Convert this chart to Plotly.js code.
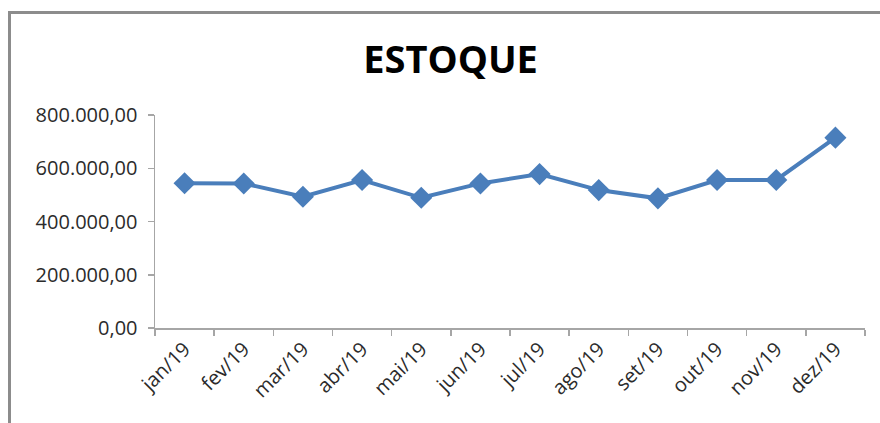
<!DOCTYPE html>
<html>
<head>
<meta charset="utf-8">
<script src="https://cdn.plot.ly/plotly-3.0.1.min.js"></script>
<style>
html,body{margin:0;padding:0;background:#fff;}
#wrap{position:relative;width:880px;height:423px;overflow:hidden;}
#frame{position:absolute;left:8px;top:11px;width:900px;height:440px;border-left:3px solid #8c8c8c;border-top:3px solid #8c8c8c;pointer-events:none;z-index:5;}
#chart{position:absolute;left:0;top:0;width:880px;height:423px;}
</style>
</head>
<body>
<div id="wrap"><div id="chart"></div><div id="frame"></div></div>
<script>
const months = ["jan/19","fev/19","mar/19","abr/19","mai/19","jun/19","jul/19","ago/19","set/19","out/19","nov/19","dez/19"];
const estoque = [543500, 543000, 493000, 556000, 489000, 543000, 578000, 518000, 487000, 556000, 556000, 715000];
const yTicks = [0, 200000, 400000, 600000, 800000];
const yTickText = ["0,00","200.000,00","400.000,00","600.000,00","800.000,00"];

const trace = {
  x: months, y: estoque, type: 'scatter', mode: 'lines+markers',
  line: {color: '#4a7ebb', width: 4},
  marker: {symbol: 'diamond', size: 17, color: '#4a7ebb'},
  hoverinfo: 'none'
};
const layout = {
  width: 880, height: 423,
  margin: {l: 155, r: 15, t: 115, b: 95},
  paper_bgcolor: '#fff', plot_bgcolor: '#fff',
  showlegend: false,
  title: {text: '<b>ESTOQUE</b>', x: 0.512, xanchor: 'center', y: 0.86, yanchor: 'middle',
          font: {family: 'Open Sans', size: 38, color: '#000'}},
  xaxis: {
    type: 'category', tickangle: -45, tickson: 'boundaries',
    ticks: 'outside', ticklen: 6, tickcolor: '#a6a6a6', tickwidth: 1.5,
    showline: true, linecolor: '#a6a6a6', linewidth: 1.5, showgrid: false, zeroline: false,
    tickfont: {family: 'Open Sans', size: 20, color: '#2b2b2b'},
    range: [-0.5, 11.5]
  },
  yaxis: {
    range: [0, 800000], tickvals: yTicks, ticktext: yTickText,
    ticks: 'outside', ticklen: 6, tickcolor: '#a6a6a6', tickwidth: 1.5,
    showline: true, linecolor: '#a6a6a6', linewidth: 1.5, showgrid: false, zeroline: false,
    tickfont: {family: 'Open Sans', size: 20, color: '#2b2b2b'},
    ticklabelstandoff: 6
  }
};
Plotly.newPlot('chart', [trace], layout, {displayModeBar: false, staticPlot: true});
</script>
</body>
</html>
